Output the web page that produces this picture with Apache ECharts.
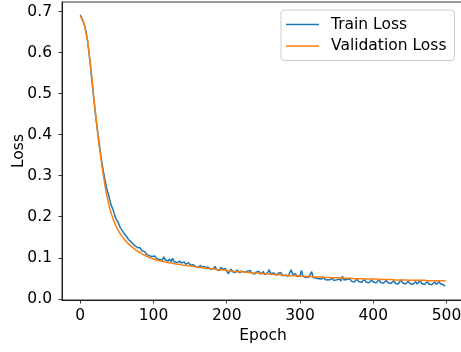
<!DOCTYPE html>
<html>
<head>
<meta charset="utf-8">
<script src="https://cdn.jsdelivr.net/npm/echarts@6/dist/echarts.min.js"></script>
<style>
  html, body {margin: 0; padding: 0; background: #fff;}
  #chart {width: 461px; height: 352px;}
</style>
</head>
<body>
<div id="chart"></div>
<script>
// train loss, read every 2 epochs (0..498)
var trainLoss = [
    0.692, 0.685, 0.676, 0.665, 0.650, 0.628, 0.598, 0.565, 0.530, 0.495,
    0.462, 0.432, 0.403, 0.377, 0.350, 0.327, 0.306, 0.287, 0.270, 0.257,
    0.243, 0.229, 0.221, 0.210, 0.198, 0.191, 0.185, 0.176, 0.170, 0.167,
    0.159, 0.155, 0.150, 0.144, 0.141, 0.138, 0.137, 0.130, 0.131, 0.125,
    0.121, 0.124, 0.117, 0.113, 0.115, 0.109, 0.112, 0.105, 0.108, 0.103,
    0.101, 0.104, 0.098, 0.100, 0.096, 0.099, 0.094, 0.102, 0.095, 0.098,
    0.092, 0.097, 0.090, 0.099, 0.091, 0.095, 0.088, 0.086, 0.092, 0.087,
    0.083, 0.090, 0.084, 0.081, 0.088, 0.082, 0.079, 0.083, 0.085, 0.078,
    0.080, 0.076, 0.082, 0.077, 0.075, 0.079, 0.073, 0.078, 0.081, 0.072,
    0.076, 0.074, 0.079, 0.071, 0.075, 0.069, 0.077, 0.072, 0.068, 0.074,
    0.070, 0.061, 0.067, 0.072, 0.066, 0.069, 0.064, 0.070, 0.067, 0.063,
    0.068, 0.071, 0.065, 0.062, 0.067, 0.064, 0.069, 0.063, 0.066, 0.060,
    0.065, 0.062, 0.067, 0.060, 0.063, 0.066, 0.059, 0.062, 0.064, 0.071,
    0.061, 0.058, 0.063, 0.060, 0.057, 0.062, 0.059, 0.064, 0.056, 0.060,
    0.058, 0.062, 0.055, 0.059, 0.071, 0.060, 0.056, 0.061, 0.054, 0.058,
    0.056, 0.069, 0.055, 0.058, 0.052, 0.056, 0.053, 0.057, 0.066, 0.052,
    0.055, 0.050, 0.054, 0.049, 0.052, 0.048, 0.053, 0.047, 0.051, 0.046,
    0.050, 0.047, 0.052, 0.045, 0.049, 0.046, 0.044, 0.048, 0.043, 0.055,
    0.046, 0.042, 0.047, 0.044, 0.049, 0.043, 0.046, 0.041, 0.045, 0.048,
    0.042, 0.046, 0.040, 0.044, 0.047, 0.041, 0.045, 0.039, 0.043, 0.046,
    0.041, 0.044, 0.039, 0.043, 0.047, 0.040, 0.044, 0.038, 0.042, 0.045,
    0.039, 0.043, 0.037, 0.041, 0.044, 0.038, 0.042, 0.036, 0.040, 0.046,
    0.039, 0.041, 0.036, 0.040, 0.043, 0.037, 0.041, 0.035, 0.039, 0.042,
    0.036, 0.040, 0.045, 0.037, 0.041, 0.035, 0.039, 0.042, 0.036, 0.040,
    0.034, 0.038, 0.041, 0.035, 0.039, 0.042, 0.036, 0.040, 0.034, 0.031
];

// validation loss, read every 5 epochs (0..495) and the last epoch
var valLoss = [
    0.690, 0.672, 0.630, 0.555, 0.465, 0.385, 0.318, 0.262, 0.222, 0.193,
    0.172, 0.157, 0.145, 0.135, 0.127, 0.120, 0.114, 0.109, 0.104, 0.100,
    0.097, 0.094, 0.092, 0.090, 0.088, 0.087, 0.085, 0.084, 0.082, 0.081,
    0.080, 0.079, 0.077, 0.076, 0.075, 0.074, 0.073, 0.072, 0.071, 0.070,
    0.069, 0.068, 0.067, 0.066, 0.066, 0.065, 0.064, 0.063, 0.063, 0.062,
    0.061, 0.061, 0.060, 0.059, 0.059, 0.058, 0.057, 0.057, 0.056, 0.056,
    0.055, 0.055, 0.054, 0.054, 0.053, 0.053, 0.053, 0.052, 0.052, 0.051,
    0.051, 0.051, 0.050, 0.050, 0.050, 0.049, 0.049, 0.049, 0.048, 0.048,
    0.048, 0.048, 0.047, 0.047, 0.047, 0.047, 0.046, 0.046, 0.046, 0.046,
    0.045, 0.045, 0.045, 0.045, 0.045, 0.044, 0.044, 0.044, 0.044, 0.044,
    0.044
];

var trainEpochs = trainLoss.map(function (v, i) { return i * 2; });
var valEpochs = valLoss.map(function (v, i) { return i < 100 ? i * 5 : 499; });

var xTicks = [0, 100, 200, 300, 400, 500];
var yTicks = [0, 0.1, 0.2, 0.3, 0.4, 0.5, 0.6, 0.7];

var font = 'DejaVu Sans';
var fs = 15.5;

var myChart = echarts.init(document.getElementById('chart'));
myChart.setOption({
    animation: false,
    backgroundColor: '#fff',
    grid: {
        left: 62, top: 2, right: -3, bottom: 52,
        outerBoundsMode: 'none',
        show: true, borderColor: '#000', borderWidth: 0.8
    },
    legend: {
        orient: 'vertical',
        left: 281, top: 10,
        padding: [6, 8, 6, 5],
        itemGap: 4.4,
        itemWidth: 33,
        itemHeight: 1.5,
        icon: 'rect',
        borderColor: '#cccccc',
        borderWidth: 1,
        borderRadius: 3,
        backgroundColor: 'rgba(255,255,255,0.8)',
        textStyle: {fontFamily: font, fontSize: fs, color: '#000', lineHeight: 17, padding: [0, 0, 0, 7]},
        data: ['Train Loss', 'Validation Loss']
    },
    xAxis: {
        type: 'value',
        min: -24.95, max: 523.95,
        name: 'Epoch', nameLocation: 'middle', nameGap: 28, nameMoveOverlap: false,
        nameTextStyle: {fontFamily: font, fontSize: fs, color: '#000'},
        axisLine: {show: true, onZero: false, lineStyle: {color: '#000', width: 0.8}},
        axisTick: {show: true, length: 3.5, lineStyle: {color: '#000', width: 0.8}, customValues: xTicks},
        axisLabel: {fontFamily: font, fontSize: fs, color: '#000', margin: 7.5, customValues: xTicks},
        splitLine: {show: false}
    },
    yAxis: {
        type: 'value',
        min: -0.003, max: 0.7235,
        name: 'Loss', nameLocation: 'middle', nameGap: 35, nameMoveOverlap: false,
        nameTextStyle: {fontFamily: font, fontSize: fs, color: '#000'},
        axisLine: {show: true, onZero: false, lineStyle: {color: '#000', width: 0.8}},
        axisTick: {show: true, length: 3.5, lineStyle: {color: '#000', width: 0.8}, customValues: yTicks},
        axisLabel: {
            fontFamily: font, fontSize: fs, color: '#000', margin: 10, customValues: yTicks,
            formatter: function (v) { return v.toFixed(1); }
        },
        splitLine: {show: false}
    },
    series: [
        {
            name: 'Train Loss',
            type: 'line',
            showSymbol: false,
            color: '#1f77b4',
            lineStyle: {width: 1.5, color: '#1f77b4'},
            data: trainEpochs.map(function (e, i) { return [e, trainLoss[i]]; })
        },
        {
            name: 'Validation Loss',
            type: 'line',
            showSymbol: false,
            color: '#ff7f0e',
            lineStyle: {width: 1.5, color: '#ff7f0e'},
            data: valEpochs.map(function (e, i) { return [e, valLoss[i]]; })
        }
    ]
});
</script>
</body>
</html>
